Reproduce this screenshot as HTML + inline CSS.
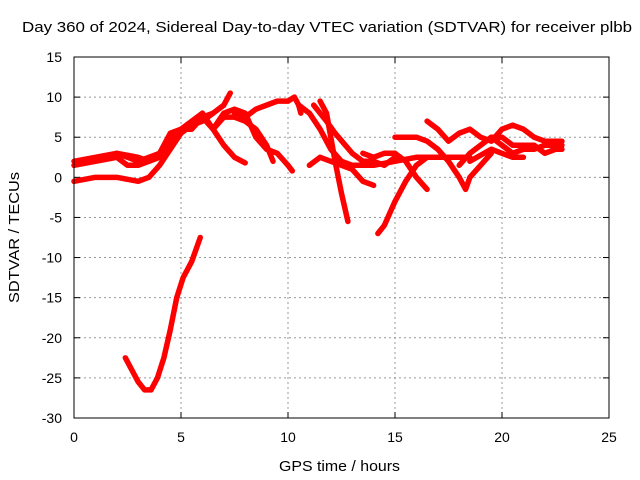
<!DOCTYPE html>
<html><head><meta charset="utf-8"><style>
body{margin:0;background:#fff}
svg{display:block;font-family:"Liberation Sans",sans-serif}
</style></head><body>
<svg id="chart" width="640" height="480">
<rect width="640" height="480" fill="#fff"/>
<text x="22" y="32" font-size="15" textLength="610" lengthAdjust="spacingAndGlyphs">Day 360 of 2024, Sidereal Day-to-day VTEC variation (SDTVAR) for receiver plbb</text>
<text x="279" y="471" font-size="15" textLength="121" lengthAdjust="spacingAndGlyphs">GPS time / hours</text>
<text transform="translate(19,303) rotate(-90)" font-size="15" textLength="131" lengthAdjust="spacingAndGlyphs">SDTVAR / TECUs</text>
<g id="grid"></g><g id="series"></g>
<rect x="74" y="57" width="535" height="361" fill="none" stroke="#000"/>
</svg>
<script>
const xTicks=[0,5,10,15,20,25];
const yTicks=[15,10,5,0,-5,-10,-15,-20,-25,-30];
const tracks=[
[[0,-0.5],[1,0],[2,0],[3,-0.5],[3.5,0],[4,1.5],[4.5,3.5],[5,5.5],[5.5,6.5],[6,7.5],[6.5,8],[7,9],[7.3,10.5]],
[[0,2],[1,2.5],[2,3],[3,2.5],[3.5,2],[4,2.5],[4.5,4],[5,6],[5.5,6.5],[6,7],[6.5,8]],
[[0,1.5],[1,2],[2,2.5],[2.5,1.5],[3,1.5],[3.5,2],[4,3],[4.5,5],[5,6],[5.5,6],[6,7.5],[6.5,6],[7,4],[7.5,2.5],[8,1.8]],
[[2,3],[3,2],[3.5,2.5],[4,3],[4.5,5.5],[5,6],[5.5,7],[6,8],[6.5,6],[7,8],[7.5,8.5],[8,8],[8.5,5],[9,3.5],[9.5,3],[10,1.5],[10.2,0.8]],
[[6.5,6],[7,7.5],[7.5,7.5],[8,7],[8.5,6],[9,4],[9.3,2]],
[[7.5,8],[8,7.5],[8.5,8.5],[9,9],[9.5,9.5],[10,9.5],[10.3,10],[10.5,9],[10.6,8]],
[[11.5,9.5],[11.8,8],[12,5],[12.2,2],[12.5,-2],[12.8,-5.5]],
[[11.2,9],[11.8,7],[12.2,5.5],[13,3],[13.5,2],[14,2],[14.5,1.5],[15,2.5]],
[[11,1.5],[11.5,2.5],[12,2],[12.5,1.5],[13,1],[13.5,-0.5],[14,-1]],
[[10.5,9],[11,8],[11.5,6],[12,3.5],[12.5,2],[13,1.5],[14,1.5],[15,2],[16,2.5],[17,2.5],[18,2.5],[18.5,2.5]],
[[13.5,3],[14,2.5],[14.5,3],[15,3],[15.5,2],[16,0],[16.5,-1.5]],
[[14.2,-7],[14.5,-6],[15,-3],[15.5,-0.5],[16,1.5],[16.5,2.5]],
[[15,5],[16,5],[16.5,4.5],[17,3.5],[17.5,2],[18,0],[18.3,-1.5],[18.5,0],[19,1.5],[19.5,3]],
[[16.5,7],[17,6],[17.5,4.5],[18,5.5],[18.5,6],[19,5],[19.5,4.5],[20,6],[20.5,6.5],[21,6],[21.5,5],[22,4.5],[22.8,4.5]],
[[18,1.5],[18.5,3],[19,4],[19.5,5],[20,5],[20.5,4],[21,4],[21.5,4],[22,3],[22.5,3.5],[22.8,3.5]],
[[19.5,5],[20,4],[20.5,3],[21,3.5],[21.5,3.5],[22,4],[22.8,4]],
[[18.5,2],[19.5,3.5],[20,3],[20.5,2.5],[21,2.5]],
[[2.4,-22.5],[2.7,-24],[3,-25.5],[3.3,-26.5],[3.6,-26.5],[3.9,-25],[4.2,-22.5],[4.5,-19],[4.8,-15],[5.1,-12.5],[5.5,-10.5],[5.9,-7.5]]
];
const X=h=>74+h*535/25, Y=v=>57+(15-v)*361/45;
const NS='http://www.w3.org/2000/svg';
const grid=document.getElementById('grid'), ser=document.getElementById('series');
function mk(tag,a,p){const e=document.createElementNS(NS,tag);for(const k in a)e.setAttribute(k,a[k]);p.appendChild(e);return e;}
xTicks.forEach(t=>{
 if(t>0&&t<25){const l=mk('line',{x1:X(t),x2:X(t),y1:57,y2:418,stroke:'#999','stroke-dasharray':'2,3'},grid);
 
 }
 mk('line',{x1:X(t),x2:X(t),y1:418,y2:412,stroke:'#000'},grid);
 mk('line',{x1:X(t),x2:X(t),y1:57,y2:63,stroke:'#000'},grid);
 const tx=mk('text',{x:X(t),y:442,'font-size':14,'text-anchor':'middle'},grid);tx.textContent=t;
 
 
});
yTicks.forEach(t=>{
 if(t<15&&t>-30){const l=mk('line',{x1:74,x2:609,y1:Y(t),y2:Y(t),stroke:'#999','stroke-dasharray':'2,3'},grid);
 
 }
 mk('line',{x1:74,x2:80,y1:Y(t),y2:Y(t),stroke:'#000'},grid);
 mk('line',{x1:603,x2:609,y1:Y(t),y2:Y(t),stroke:'#000'},grid);
 const tx=mk('text',{x:62,y:Y(t)+5,'font-size':14,'text-anchor':'end'},grid);tx.textContent=t;
 
 
});
tracks.forEach(tr=>{
 const p=mk('polyline',{points:tr.map(d=>X(d[0])+','+Y(d[1])).join(' '),fill:'none',stroke:'#f00','stroke-width':5.5,'stroke-linejoin':'round','stroke-linecap':'round'},ser);
 
 
});
</script>
</body></html>
